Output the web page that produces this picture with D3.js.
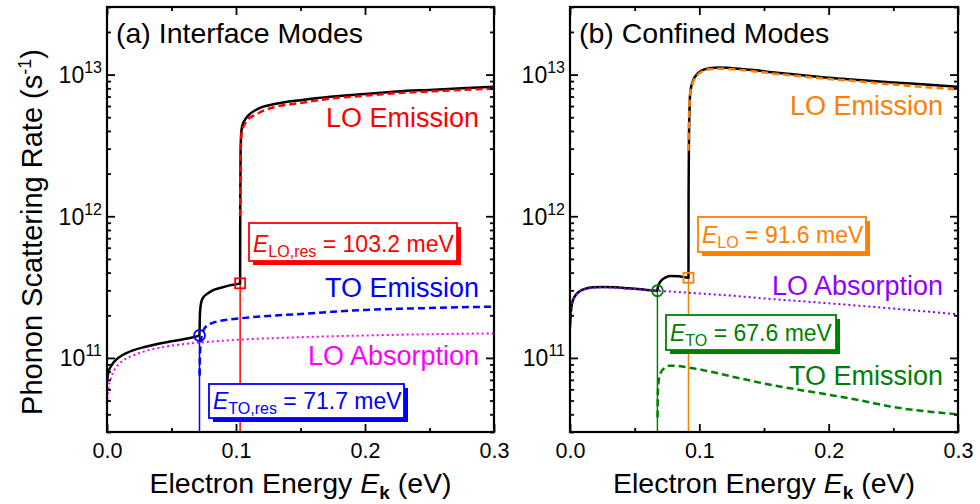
<!DOCTYPE html>
<html><head><meta charset="utf-8">
<script src="https://cdn.jsdelivr.net/npm/d3@7"></script>
<style>
body{margin:0;background:#fff;}
svg{display:block;font-family:"Liberation Sans",Arial,sans-serif;}
</style></head>
<body><svg id="c" width="980" height="504"></svg>
<script>
// ---------- DATA ----------
const xTicks = [0, 0.1, 0.2, 0.3];
const xMinor = [0.05, 0.15, 0.25];
const yDecades = [11, 12, 13];

// (a) Interface modes
const ifTotalX = [0,0.001,0.003,0.006,0.01,0.015,0.02,0.03,0.04,0.05,0.06,0.0717,0.0718,0.072,0.0725,0.0735,0.075,0.078,0.082,0.088,0.095,0.1032,0.1033,0.1035,0.104,0.105,0.107,0.11,0.115,0.12,0.13,0.15,0.175,0.2,0.225,0.25,0.275,0.3];
const ifTotalY = [6.8e10,7.9e10,8.7e10,9.5e10,1.02e11,1.08e11,1.13e11,1.2e11,1.26e11,1.31e11,1.36e11,1.44e11,1.6e11,2.0e11,2.3e11,2.55e11,2.7e11,2.85e11,3.0e11,3.12e11,3.25e11,3.36e11,1.2e12,2.5e12,3.8e12,4.4e12,4.8e12,5.2e12,5.6e12,5.9e12,6.2e12,6.6e12,7.0e12,7.3e12,7.6e12,7.8e12,8.0e12,8.2e12];
const ifLOemX = [0.1032,0.1034,0.1037,0.104,0.105,0.107,0.11,0.115,0.12,0.13,0.15,0.175,0.2,0.225,0.25,0.275,0.3];
const ifLOemY = [1.0e12,2.0e12,3.0e12,3.6e12,4.1e12,4.5e12,4.9e12,5.2e12,5.5e12,5.9e12,6.3e12,6.8e12,7.1e12,7.4e12,7.6e12,7.8e12,7.95e12];
const ifTOemX = [0.0718,0.072,0.0725,0.0735,0.075,0.078,0.082,0.088,0.095,0.1,0.11,0.125,0.15,0.175,0.2,0.225,0.25,0.275,0.3];
const ifTOemY = [7.5e10,1.0e11,1.25e11,1.45e11,1.58e11,1.7e11,1.77e11,1.83e11,1.87e11,1.89e11,1.93e11,1.98e11,2.04e11,2.12e11,2.18e11,2.22e11,2.25e11,2.28e11,2.3e11];
const ifLOabsX = [0,0.001,0.003,0.006,0.01,0.015,0.02,0.03,0.05,0.075,0.1,0.15,0.2,0.25,0.3];
const ifLOabsY = [4.7e10,6.0e10,7.2e10,8.3e10,9.2e10,9.9e10,1.04e11,1.12e11,1.22e11,1.29e11,1.34e11,1.4e11,1.44e11,1.47e11,1.49e11];
const ifTOres = {x:0.0717, y:1.44e11};
const ifLOres = {x:0.1032, y:3.36e11};

// (b) Confined modes
const cfTotalX = [0,0.0005,0.0015,0.003,0.005,0.008,0.012,0.018,0.025,0.035,0.045,0.055,0.0676,0.0678,0.069,0.071,0.074,0.078,0.084,0.0916,0.0917,0.092,0.0925,0.093,0.095,0.098,0.102,0.108,0.115,0.125,0.14,0.16,0.18,0.2,0.22,0.25,0.275,0.3];
const cfTotalY = [1.65e11,2.0e11,2.4e11,2.65e11,2.82e11,2.98e11,3.08e11,3.15e11,3.17e11,3.15e11,3.1e11,3.05e11,2.98e11,3.1e11,3.35e11,3.55e11,3.7e11,3.78e11,3.77e11,3.68e11,1.5e12,3.5e12,6.0e12,7.5e12,9.0e12,1.0e13,1.07e13,1.11e13,1.12e13,1.11e13,1.08e13,1.03e13,9.9e12,9.5e12,9.2e12,8.8e12,8.5e12,8.2e12];
const cfLOemX = [0.0916,0.0918,0.092,0.0925,0.093,0.095,0.098,0.102,0.108,0.115,0.125,0.14,0.16,0.18,0.2,0.22,0.25,0.275,0.3];
const cfLOemY = [2.9e12,4.0e12,5.0e12,6.5e12,7.5e12,8.8e12,9.8e12,1.05e13,1.09e13,1.1e13,1.09e13,1.06e13,1.01e13,9.7e12,9.3e12,9.0e12,8.5e12,8.15e12,7.85e12];
const cfLOabsX = [0,0.0005,0.0015,0.003,0.005,0.008,0.012,0.018,0.025,0.035,0.045,0.055,0.0676,0.08,0.1,0.125,0.15,0.175,0.2,0.225,0.25,0.275,0.3];
const cfLOabsY = [1.6e11,1.98e11,2.38e11,2.63e11,2.8e11,2.96e11,3.06e11,3.13e11,3.15e11,3.13e11,3.08e11,3.04e11,2.98e11,2.93e11,2.85e11,2.75e11,2.63e11,2.53e11,2.43e11,2.33e11,2.23e11,2.13e11,2.03e11];
const cfTOemX = [0.0677,0.0679,0.0685,0.07,0.0725,0.076,0.08,0.09,0.1,0.125,0.15,0.175,0.2,0.225,0.25,0.275,0.3];
const cfTOemY = [3.8e10,5.5e10,6.8e10,7.8e10,8.4e10,8.8e10,8.8e10,8.6e10,8.3e10,7.4e10,6.6e10,6.0e10,5.5e10,5.0e10,4.5e10,4.2e10,4.0e10];
const cfTO = {x:0.0676, y:2.98e11};
const cfLO = {x:0.0916, y:3.68e11};

// ---------- DRAW ----------
const svg = d3.select('#c');
const FONT = '"Liberation Sans",Arial,sans-serif';
const zip = (xs, ys) => xs.map((x,i)=>({x, y: ys[i]}));

const panels = [
  {id:'a', x0:107, x1:494, title:'(a) Interface Modes',
   total: zip(ifTotalX, ifTotalY),
   series:[
     {d: zip(ifLOabsX, ifLOabsY), color:'#ff00ff', dash:'2,3', w:2},
     {d: zip(ifTOemX, ifTOemY), color:'#0000ff', dash:'7,4', w:2.5},
     {d: zip(ifLOemX, ifLOemY), color:'#ff0000', dash:'7,4', w:2.5}
   ],
   labels:[
     {t:'LO Emission', color:'#ff0000', y:127},
     {t:'TO Emission', color:'#0000ff', y:297},
     {t:'LO Absorption', color:'#ff00ff', y:365}
   ],
   markers:[
     {p:ifTOres, color:'#0000ff', shape:'circle'},
     {p:ifLOres, color:'#ff0000', shape:'square'}
   ],
   boxes:[
     {color:'#ff0000', x:249, y:223, w:208, h:38, sub:'LO,res', rest:' = 103.2 meV'},
     {color:'#0000ff', x:209, y:384, w:195, h:34, sub:'TO,res', rest:' = 71.7 meV'}
   ]},
  {id:'b', x0:570, x1:958, title:'(b) Confined Modes',
   total: zip(cfTotalX, cfTotalY),
   series:[
     {d: zip(cfLOabsX, cfLOabsY), color:'#8f00ff', dash:'2,3', w:2},
     {d: zip(cfTOemX, cfTOemY), color:'#008000', dash:'7,4', w:2.5},
     {d: zip(cfLOemX, cfLOemY), color:'#ff8000', dash:'7,4', w:2.5}
   ],
   labels:[
     {t:'LO Emission', color:'#ff8000', y:115},
     {t:'LO Absorption', color:'#8f00ff', y:295},
     {t:'TO Emission', color:'#008000', y:385}
   ],
   markers:[
     {p:cfTO, color:'#008000', shape:'circle'},
     {p:cfLO, color:'#ff8000', shape:'square'}
   ],
   boxes:[
     {color:'#ff8000', x:698, y:217, w:168, h:35, sub:'LO', rest:' = 91.6 meV'},
     {color:'#008000', x:666, y:315, w:170, h:35, sub:'TO', rest:' = 67.6 meV'}
   ]}
];

const yTop = 7, yBot = 432;
const y = d3.scaleLog().domain([3e10, 3e13]).range([yBot, yTop]);
const yMinor = [];
for (let e = 10; e <= 13; e++) for (let m = 2; m <= 9; m++) { const v = m*Math.pow(10,e); if (v>=3e10 && v<=3e13) yMinor.push(v); }

panels.forEach(P => {
  const x = d3.scaleLinear().domain([0, 0.3]).range([P.x0, P.x1]);
  const g = svg.append('g');
  const clipId = 'clip'+P.id;
  svg.append('clipPath').attr('id', clipId).append('rect')
    .attr('x', P.x0).attr('y', yTop).attr('width', P.x1-P.x0).attr('height', yBot-yTop);

  const line = d3.line().x(d=>x(d.x)).y(d=>y(d.y)).curve(d3.curveMonotoneX);
  const plot = g.append('g').attr('clip-path', `url(#${clipId})`);

  // vertical resonance lines
  P.markers.forEach(m => {
    plot.append('line').attr('x1', x(m.p.x)).attr('x2', x(m.p.x))
      .attr('y1', yBot).attr('y2', y(m.p.y)).attr('stroke', m.color).attr('stroke-width', 1.5);
  });
  // total
  plot.append('path').datum(P.total).attr('d', line)
    .attr('fill','none').attr('stroke','#000').attr('stroke-width',2.5);
  // components
  P.series.forEach(s => {
    plot.append('path').datum(s.d).attr('d', line)
      .attr('fill','none').attr('stroke', s.color).attr('stroke-width', s.w)
      .attr('stroke-dasharray', s.dash);
  });
  // markers
  P.markers.forEach(m => {
    if (m.shape === 'circle') {
      g.append('circle').attr('cx', x(m.p.x)).attr('cy', y(m.p.y)).attr('r', 5.5)
        .attr('fill','none').attr('stroke', m.color).attr('stroke-width', 1.8);
    } else {
      g.append('rect').attr('x', x(m.p.x)-5).attr('y', y(m.p.y)-5).attr('width', 10).attr('height', 10)
        .attr('fill','none').attr('stroke', m.color).attr('stroke-width', 1.8);
    }
  });

  // axes
  const axB = g.append('g').attr('transform', `translate(0,${yBot})`)
    .call(d3.axisBottom(x).tickValues(xTicks).tickSize(-8).tickPadding(11).tickFormat(d3.format('.1f')));
  g.append('g').attr('transform', `translate(0,${yBot})`)
    .call(d3.axisBottom(x).tickValues(xMinor).tickSize(-4).tickFormat(''));
  g.append('g').attr('transform', `translate(0,${yTop})`)
    .call(d3.axisTop(x).tickValues(xTicks).tickSize(-8).tickFormat(''));
  g.append('g').attr('transform', `translate(0,${yTop})`)
    .call(d3.axisTop(x).tickValues(xMinor).tickSize(-4).tickFormat(''));
  const yMaj = yDecades.map(e => Math.pow(10, e));
  g.append('g').attr('transform', `translate(${P.x0},0)`)
    .call(d3.axisLeft(y).tickValues(yMaj).tickSize(-8).tickFormat(''));
  g.append('g').attr('transform', `translate(${P.x0},0)`)
    .call(d3.axisLeft(y).tickValues(yMinor).tickSize(-4).tickFormat(''));
  g.append('g').attr('transform', `translate(${P.x1},0)`)
    .call(d3.axisRight(y).tickValues(yMaj).tickSize(-8).tickFormat(''));
  g.append('g').attr('transform', `translate(${P.x1},0)`)
    .call(d3.axisRight(y).tickValues(yMinor).tickSize(-4).tickFormat(''));
  g.selectAll('.domain').remove();
  g.selectAll('.tick line').attr('stroke','#000').attr('stroke-width',1.8);
  axB.selectAll('.tick text').attr('font-family', FONT).attr('font-size', 21.5).attr('fill','#000');

  // frame
  g.append('rect').attr('x', P.x0).attr('y', yTop).attr('width', P.x1-P.x0).attr('height', yBot-yTop)
    .attr('fill','none').attr('stroke','#000').attr('stroke-width',2.2);

  // y tick labels
  yDecades.forEach(e => {
    const t = g.append('text').attr('x', P.x0-5).attr('y', y(Math.pow(10,e))+8.5)
      .attr('text-anchor','end').attr('font-size',23).attr('fill','#000');
    t.append('tspan').text('10');
    t.append('tspan').attr('dy',-10).attr('font-size',16).text(String(e));
  });

  // x axis title
  const xt = g.append('text').attr('x', (P.x0+P.x1)/2).attr('y', 493)
    .attr('text-anchor','middle').attr('font-size',28.5).attr('fill','#000');
  xt.append('tspan').text('Electron Energy ');
  xt.append('tspan').attr('font-style','italic').text('E');
  xt.append('tspan').attr('font-weight','bold').attr('font-size',19).attr('dy',6).text('k');
  xt.append('tspan').attr('dy',-6).text(' (eV)');

  // panel title
  g.append('text').attr('x', P.x0+9).attr('y', 43).attr('font-size',28.5).attr('fill','#000').text(P.title);

  // curve labels
  P.labels.forEach(l => {
    g.append('text').attr('x', P.x1-15).attr('y', l.y).attr('text-anchor','end')
      .attr('font-size',27).attr('fill', l.color).text(l.t);
  });

  // annotation boxes
  P.boxes.forEach(b => {
    g.append('rect').attr('x', b.x+4).attr('y', b.y+4).attr('width', b.w).attr('height', b.h).attr('fill', b.color);
    g.append('rect').attr('x', b.x).attr('y', b.y).attr('width', b.w).attr('height', b.h)
      .attr('fill','#fff').attr('stroke', b.color).attr('stroke-width',1.8);
    const t = g.append('text').attr('x', b.x+4).attr('y', b.y+b.h-9).attr('font-size',23).attr('fill', b.color);
    t.append('tspan').attr('font-style','italic').text('E');
    t.append('tspan').attr('font-size',16).attr('dy',5).text(b.sub);
    t.append('tspan').attr('dy',-5).text(b.rest);
  });
});

// y axis title
const yt = svg.append('text').attr('transform','translate(42,232) rotate(-90)')
  .attr('text-anchor','middle').attr('font-size',29).attr('fill','#000');
yt.append('tspan').text('Phonon Scattering Rate (s');
yt.append('tspan').attr('font-size',18).attr('dy',-11).text('-1');
yt.append('tspan').attr('dy',11).text(')');
</script></body></html>
